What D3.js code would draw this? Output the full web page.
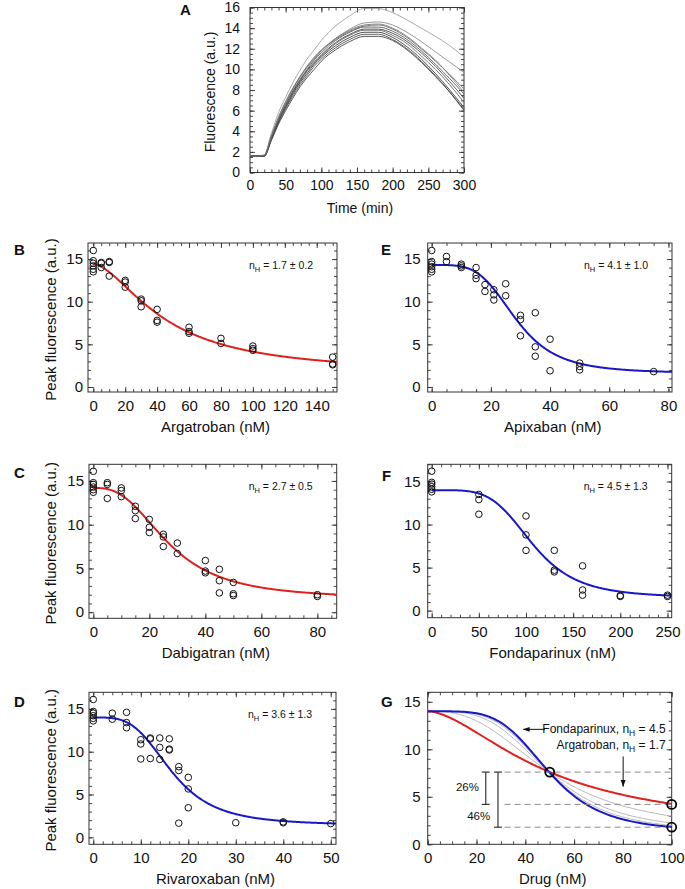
<!DOCTYPE html>
<html><head><meta charset="utf-8">
<script src="https://cdn.jsdelivr.net/npm/d3@7"></script>
<style>
body{margin:0;background:#fff}
svg{display:block}
text{font-family:"Liberation Sans",Arial,Helvetica,sans-serif;fill:#111}
</style>
</head><body><svg id="c" width="685" height="889"></svg>
<script>
// ---------------- DATA ----------------
// Panel A: fluorescence time courses
const timeMin = [0,10,20,30,40,50,60,70,80,90,100,120,140,160,180,200,220,240,260,280,300];
const trace1  = [1.6,1.6,1.7,3.8,5.8,7.3,8.7,9.9,11.0,11.9,12.8,14.2,15.2,15.9,15.9,15.5,14.8,14.0,13.2,12.3,11.2];
const trace2  = [1.6,1.6,1.7,3.6,5.4,6.9,8.2,9.3,10.3,11.2,11.9,13.0,13.9,14.5,14.6,14.3,13.6,12.7,11.7,10.7,9.7];
const trace3  = [1.6,1.6,1.65,3.5,5.3,6.8,8.1,9.2,10.2,11.0,11.8,12.9,13.7,14.2,14.3,13.9,13.1,12.0,10.8,9.5,8.1];
const trace4  = [1.6,1.6,1.65,3.4,5.1,6.6,7.9,9.0,10.0,10.9,11.6,12.8,13.6,14.1,14.1,13.7,12.9,11.8,10.5,9.1,7.6];
const trace5  = [1.6,1.6,1.6,3.4,5.1,6.5,7.8,8.9,9.9,10.7,11.4,12.6,13.4,13.9,13.9,13.5,12.7,11.6,10.3,8.8,7.2];
const trace6  = [1.55,1.55,1.6,3.3,5.0,6.4,7.7,8.8,9.8,10.6,11.3,12.5,13.3,13.8,13.8,13.3,12.5,11.3,10.0,8.5,6.8];
const trace7  = [1.6,1.6,1.6,3.3,4.9,6.3,7.6,8.7,9.6,10.5,11.2,12.3,13.1,13.6,13.6,13.1,12.2,11.0,9.6,8.0,6.3];
const trace8  = [1.55,1.55,1.6,3.2,4.8,6.2,7.4,8.5,9.4,10.3,11.0,12.1,12.9,13.4,13.4,12.9,12.0,10.8,9.4,7.8,6.0];
const trace9  = [1.6,1.6,1.6,3.1,4.7,6.0,7.2,8.3,9.2,10.0,10.8,11.9,12.7,13.2,13.2,12.8,11.9,10.7,9.3,7.8,6.1];
const trace10 = [1.6,1.6,1.65,3.5,5.3,6.8,8.1,9.3,10.3,11.1,11.8,13.0,13.8,14.3,14.4,14.0,13.2,12.1,10.9,9.4,7.8];
const traces = [trace1,trace2,trace3,trace4,trace5,trace6,trace7,trace8,trace9,trace10];

// Panel B: Argatroban
const argaConc = [0,0,0,0,0,0, 5,5,5, 10,10,10, 20,20,20, 30,30,30, 40,40,40, 60,60,60, 80,80, 100,100,100, 150,150,150];
const argaPeak = [16.0,14.8,14.5,14.2,13.8,13.5, 14.6,14.5,14.0, 14.7,14.6,13.0, 12.5,12.3,11.7, 10.3,10.1,9.4, 9.1,7.8,7.6, 7.0,6.5,6.3, 5.7,5.1, 4.8,4.5,4.3, 3.5,2.7,2.6];
// Panel C: Dabigatran
const dabiConc = [0,0,0,0,0,0, 5,5,5, 10,10,10, 15,15,15, 20,20,20, 25,25,25, 30,30, 40,40,40, 45,45,45, 50,50,50, 80,80];
const dabiPeak = [16.1,14.8,14.6,14.3,14.0,13.7, 14.8,14.6,13.0, 14.2,13.9,13.2, 12.1,11.6,10.7, 10.6,9.7,9.1, 8.9,8.6,7.5, 7.9,6.7, 5.9,4.7,4.5, 4.9,3.6,2.2, 3.4,2.1,1.9, 2.0,1.8];
// Panel D: Rivaroxaban
const rivaConc = [0,0,0,0,0,0, 4,4, 7,7,7, 10,10,10, 12,12,12, 14,14,14, 16,16,16, 18,18,18, 20,20,20, 30, 40,40, 50];
const rivaPeak = [16.1,14.7,14.5,14.2,13.9,13.6, 14.5,13.8, 14.6,13.4,12.8, 11.4,10.9,9.15, 11.6,11.5,9.2, 11.6,10.5,9.1, 11.5,10.3,10.2, 8.25,7.8,1.65, 7.0,5.65,3.45, 1.7, 1.8,1.7, 1.6];
// Panel E: Apixaban
const apixConc = [0,0,0,0,0,0, 5,5, 10,10,10, 15,15,15, 18,18, 21,21,21, 25,25, 30,30,30, 35,35,35, 40,40, 50,50,50, 75];
const apixPeak = [16.0,14.7,14.4,14.1,13.8,13.5, 15.3,14.7, 14.4,14.2,14.0, 14.0,13.1,12.7, 12.0,11.2, 11.4,10.8,10.2, 12.1,10.7, 8.4,7.9,6.0, 8.7,4.7,3.6, 5.6,1.9, 2.8,2.4,2.0, 1.8];
// Panel F: Fondaparinux
const fondaConc = [0,0,0,0,0,0, 50,50,50, 100,100,100, 130,130,130, 160,160,160, 200,200, 250,250];
const fondaPeak = [16.2,14.9,14.7,14.4,14.1,13.8, 13.5,12.9,11.2, 11.0,8.8,7.0, 7.0,4.7,4.5, 5.2,2.4,1.8, 1.75,1.65, 1.8,1.65];

// Hill fits: [top, bottom, IC50, nH]
const fitArga  = [14.4, 1.5, 45, 1.7];
const fitDabi  = [14.2, 1.5, 27, 2.7];
const fitRiva  = [14.0, 1.4, 16.5, 3.6];
const fitApix  = [14.3, 1.6, 28.5, 4.1];
const fitFonda = [14.0, 1.5, 107, 4.5];
// Panel G model curves (normalised): Hill coefficients of the five drugs
const modelTop = 14, modelBottom = 1.3, modelIC50 = 49.6;
const modelNH = [2.7, 3.6, 4.1];       // grey
const modelRedNH = 1.7, modelBlueNH = 4.5;
const gLevels = [7.6, 4.2, 1.8];
const gPercent = ["26%", "46%"];

const nHText = ["1.7 ± 0.2", "2.7 ± 0.5", "3.6 ± 1.3", "4.1 ± 1.0", "4.5 ± 1.3"];

// tick values
const ticksA_x = [0,50,100,150,200,250,300], ticksA_y = [0,2,4,6,8,10,12,14,16];
const ticksPeak = [0,5,10,15];
const ticksB_x = [0,20,40,60,80,100,120,140];
const ticksC_x = [0,20,40,60,80];
const ticksD_x = [0,10,20,30,40,50];
const ticksE_x = [0,20,40,60,80];
const ticksF_x = [0,50,100,150,200,250];
const ticksG_x = [0,20,40,60,80,100];

// ---------------- DRAW ----------------
const svg = d3.select('#c');
const RED = '#e0201c', BLUE = '#1818c8';
const hill = (p, x) => p[1] + (p[0]-p[1]) / (1 + Math.pow(x/p[2], p[3]));

function rng(a, b, s) { const out=[]; for (let v=Math.ceil(a/s)*s; v<=b+1e-9; v+=s) out.push(+v.toFixed(6)); return out; }

function panel(p) {
  const g = svg.append('g');
  const x = d3.scaleLinear().domain(p.xd).range([p.l, p.r]);
  const y = d3.scaleLinear().domain(p.yd).range([p.b, p.t]);
  const lo = Math.max(p.xd[0], 0), ylo = Math.max(p.yd[0], 0);
  const xMin = rng(lo, p.xd[1], p.xMinor), yMin = rng(ylo, p.yd[1], p.yMinor);
  const xMaj = p.xMajor, yMaj = p.yMajor;
  const add = (axis, tr) => {
    const a = g.append('g').attr('transform', tr).call(axis);
    a.select('.domain').remove();
    a.selectAll('line').attr('stroke', '#333').attr('stroke-width', 0.9);
    return a;
  };
  // minor ticks
  add(d3.axisBottom(x).tickValues(xMin).tickSize(-3).tickFormat(''), `translate(0,${p.b})`);
  add(d3.axisTop(x).tickValues(xMin).tickSize(-3).tickFormat(''), `translate(0,${p.t})`);
  add(d3.axisLeft(y).tickValues(yMin).tickSize(-3).tickFormat(''), `translate(${p.l},0)`);
  add(d3.axisRight(y).tickValues(yMin).tickSize(-3).tickFormat(''), `translate(${p.r},0)`);
  // major ticks
  const bx = add(d3.axisBottom(x).tickValues(xMaj).tickSize(-5).tickPadding(p.xPad || 8.5), `translate(0,${p.b})`);
  add(d3.axisTop(x).tickValues(xMaj).tickSize(-5).tickFormat(''), `translate(0,${p.t})`);
  const ly = add(d3.axisLeft(y).tickValues(yMaj).tickSize(-5).tickPadding(p.yPad), `translate(${p.l},0)`);
  add(d3.axisRight(y).tickValues(yMaj).tickSize(-5).tickFormat(''), `translate(${p.r},0)`);
  [bx, ly].forEach(a => a.attr('font-size', null).attr('font-family', null)
    .selectAll('text').attr('font-size', p.tickFont || 15).attr('fill', '#111'));
  // frame
  g.append('rect').attr('x', p.l).attr('y', p.t).attr('width', p.r - p.l).attr('height', p.b - p.t)
    .attr('fill', 'none').attr('stroke', '#333').attr('stroke-width', 1);
  // labels
  g.append('text').attr('x', (p.l + p.r) / 2 + 3).attr('y', p.b + 40).attr('text-anchor', 'middle')
    .attr('font-size', p.labFont || 15).text(p.xLabel);
  if (p.yLabel) {
    g.append('text').attr('transform', `translate(${p.yLabX},${(p.t + p.b) / 2 + 2}) rotate(-90)`)
      .attr('text-anchor', 'middle').attr('font-size', p.labFont || 15).text(p.yLabel);
  }
  g.append('text').attr('x', p.letterX).attr('y', p.letterY).attr('font-weight', 'bold')
    .attr('font-size', 15).text(p.letter);
  const plot = g.append('g');
  return { x, y, g: plot, p };
}

function nHLabel(P, str) {
  const t = P.g.append('text').attr('x', P.p.r - 24).attr('y', P.p.t + 26)
    .attr('text-anchor', 'end').attr('font-size', 10.5);
  t.append('tspan').text('n');
  t.append('tspan').attr('font-size', 7.5).attr('dy', 2.5).text('H');
  t.append('tspan').attr('dy', -2.5).text(' = ' + str);
}

function drawFit(P, fit, color) {
  const xs = d3.range(0, P.x.domain()[1] + 1e-9, (P.x.domain()[1]) / 300);
  P.g.append('path').datum(xs)
    .attr('d', d3.line().x(d => P.x(d)).y(d => P.y(hill(fit, d))))
    .attr('fill', 'none').attr('stroke', color).attr('stroke-width', 2);
}
function drawPoints(P, xs, ys) {
  P.g.selectAll(null).data(xs).enter().append('circle')
    .attr('cx', (d) => P.x(d)).attr('cy', (d, i) => P.y(ys[i])).attr('r', 3.3)
    .attr('fill', 'none').attr('stroke', '#111').attr('stroke-width', 1);
}

// ---- Panel A ----
const A = panel({ l: 250, r: 464, t: 7.5, b: 172.5, xd: [0, 300], yd: [0, 16],
  xMajor: ticksA_x, xMinor: 10, yMajor: ticksA_y, yMinor: 0.5, yPad: 10, xPad: 8,
  xLabel: 'Time (min)', yLabel: 'Fluorescence (a.u.)', yLabX: 214.5, labFont: 14, tickFont: 14,
  letter: 'A', letterX: 180, letterY: 15 });
const shades = ['#a0a0a0', '#8c8c8c', '#707070', '#5a5a5a', '#4a4a4a', '#666', '#3c3c3c', '#555', '#444', '#7a7a7a'];
traces.forEach((tr, k) => {
  A.g.append('path').datum(tr)
    .attr('d', d3.line().x((d, i) => A.x(timeMin[i])).y(d => A.y(d)).curve(d3.curveMonotoneX))
    .attr('fill', 'none').attr('stroke', shades[k]).attr('stroke-width', 0.9);
});

// ---- Panel B ----
const B = panel({ l: 88, r: 337, t: 243, b: 392, xd: [-3.3, 152.7], yd: [-0.59, 16.88],
  xMajor: ticksB_x, xMinor: 5, yMajor: ticksPeak, yMinor: 1, yPad: 5,
  xLabel: 'Argatroban (nM)', yLabel: 'Peak fluorescence (a.u.)', yLabX: 55.5,
  letter: 'B', letterX: 14, letterY: 255 });
drawFit(B, fitArga, RED); drawPoints(B, argaConc, argaPeak); nHLabel(B, nHText[0]);

// ---- Panel C ----
const C = panel({ l: 89, r: 336.7, t: 464.3, b: 618.3, xd: [-1.54, 86.9], yd: [-0.70, 16.9],
  xMajor: ticksC_x, xMinor: 5, yMajor: ticksPeak, yMinor: 1, yPad: 5,
  xLabel: 'Dabigatran (nM)', yLabel: 'Peak fluorescence (a.u.)', yLabX: 55.5,
  letter: 'C', letterX: 14, letterY: 478 });
drawFit(C, fitDabi, RED); drawPoints(C, dabiConc, dabiPeak); nHLabel(C, nHText[1]);

// ---- Panel D ----
const D = panel({ l: 89, r: 336, t: 692.3, b: 844.3, xd: [-0.9, 51.1], yd: [-0.82, 16.94],
  xMajor: ticksD_x, xMinor: 2, yMajor: ticksPeak, yMinor: 1, yPad: 5,
  xLabel: 'Rivaroxaban (nM)', yLabel: 'Peak fluorescence (a.u.)', yLabX: 55.5,
  letter: 'D', letterX: 14, letterY: 707 });
drawFit(D, fitRiva, BLUE); drawPoints(D, rivaConc, rivaPeak); nHLabel(D, nHText[2]);

// ---- Panel E ----
const E = panel({ l: 427.7, r: 672, t: 243, b: 392, xd: [-1.35, 81.2], yd: [-0.59, 16.88],
  xMajor: ticksE_x, xMinor: 5, yMajor: ticksPeak, yMinor: 1, yPad: 7,
  xLabel: 'Apixaban (nM)', letter: 'E', letterX: 381, letterY: 255 });
drawFit(E, fitApix, BLUE); drawPoints(E, apixConc, apixPeak); nHLabel(E, nHText[3]);

// ---- Panel F ----
const F = panel({ l: 427.7, r: 671.7, t: 464.3, b: 617.7, xd: [-4.24, 254.5], yd: [-0.82, 17.0],
  xMajor: ticksF_x, xMinor: 10, yMajor: ticksPeak, yMinor: 1, yPad: 7,
  xLabel: 'Fondaparinux (nM)', letter: 'F', letterX: 382, letterY: 481 });
drawFit(F, fitFonda, BLUE); drawPoints(F, fondaConc, fondaPeak); nHLabel(F, nHText[4]);

// ---- Panel G ----
const G = panel({ l: 427.7, r: 671.7, t: 692.3, b: 844.3, xd: [0, 100], yd: [0, 16],
  xMajor: ticksG_x, xMinor: 5, yMajor: ticksPeak, yMinor: 1, yPad: 7,
  xLabel: 'Drug (nM)', letter: 'G', letterX: 381, letterY: 707 });
const gx = d3.range(0, 100.001, 0.5);
const modelLine = n => d3.line().x(d => G.x(d)).y(d => G.y(hill([modelTop, modelBottom, modelIC50, n], d)));
modelNH.forEach(n => G.g.append('path').datum(gx).attr('d', modelLine(n))
  .attr('fill', 'none').attr('stroke', '#b4b4b4').attr('stroke-width', 1));
G.g.append('path').datum(gx).attr('d', modelLine(modelRedNH)).attr('fill', 'none').attr('stroke', RED).attr('stroke-width', 2);
G.g.append('path').datum(gx).attr('d', modelLine(modelBlueNH)).attr('fill', 'none').attr('stroke', BLUE).attr('stroke-width', 2);
// dashed levels
gLevels.forEach(v => G.g.append('line').attr('x1', G.x(31.5)).attr('x2', G.x(100)).attr('y1', G.y(v)).attr('y2', G.y(v))
  .attr('stroke', '#8a8a8a').attr('stroke-width', 1).attr('stroke-dasharray', '6,4'));
// brackets
function bracket(xv, y1, y2) {
  const gg = G.g.append('g').attr('stroke', '#333').attr('stroke-width', 1.2);
  gg.append('line').attr('x1', G.x(xv)).attr('x2', G.x(xv)).attr('y1', G.y(y1)).attr('y2', G.y(y2));
  [y1, y2].forEach(v => gg.append('line').attr('x1', G.x(xv - 1.6)).attr('x2', G.x(xv + 1.6)).attr('y1', G.y(v)).attr('y2', G.y(v)));
}
bracket(23.8, gLevels[0], gLevels[1]);
bracket(28.8, gLevels[0], gLevels[2]);
G.g.append('text').attr('x', G.x(21)).attr('y', G.y(6.0)).attr('dy', '0.35em').attr('text-anchor', 'end').attr('font-size', 11.5).text(gPercent[0]);
G.g.append('text').attr('x', G.x(25.6)).attr('y', G.y(3.0)).attr('dy', '0.35em').attr('text-anchor', 'end').attr('font-size', 11.5).text(gPercent[1]);
// circles
[[50, gLevels[0]], [100, gLevels[1]], [100, gLevels[2]]].forEach(d => G.g.append('circle')
  .attr('cx', G.x(d[0])).attr('cy', G.y(d[1])).attr('r', 4.5).attr('fill', 'none').attr('stroke', '#000').attr('stroke-width', 1.8));
// arrows
const defs = svg.append('defs');
defs.append('marker').attr('id', 'ah').attr('viewBox', '0 0 10 10').attr('refX', 9).attr('refY', 5)
  .attr('markerWidth', 7).attr('markerHeight', 7).attr('orient', 'auto-start-reverse')
  .append('path').attr('d', 'M0,1.5 L10,5 L0,8.5 Z').attr('fill', '#111');
G.g.append('line').attr('x1', G.x(48)).attr('x2', G.x(39.2)).attr('y1', G.y(12.1)).attr('y2', G.y(12.1))
  .attr('stroke', '#111').attr('stroke-width', 1).attr('marker-end', 'url(#ah)');
G.g.append('line').attr('x1', G.x(80.1)).attr('x2', G.x(80.1)).attr('y1', G.y(9.25)).attr('y2', G.y(6.1))
  .attr('stroke', '#111').attr('stroke-width', 1).attr('marker-end', 'url(#ah)');
function gLabel(name, nh, yv) {
  const t = G.g.append('text').attr('x', G.x(97.5)).attr('y', G.y(yv)).attr('text-anchor', 'end').attr('font-size', 12);
  t.append('tspan').text(name + ', n');
  t.append('tspan').attr('font-size', 8.5).attr('dy', 3).text('H');
  t.append('tspan').attr('dy', -3).text(' = ' + nh);
}
gLabel('Fondaparinux', modelBlueNH, 11.75);
gLabel('Argatroban', modelRedNH, 10.0);
</script></body></html>
